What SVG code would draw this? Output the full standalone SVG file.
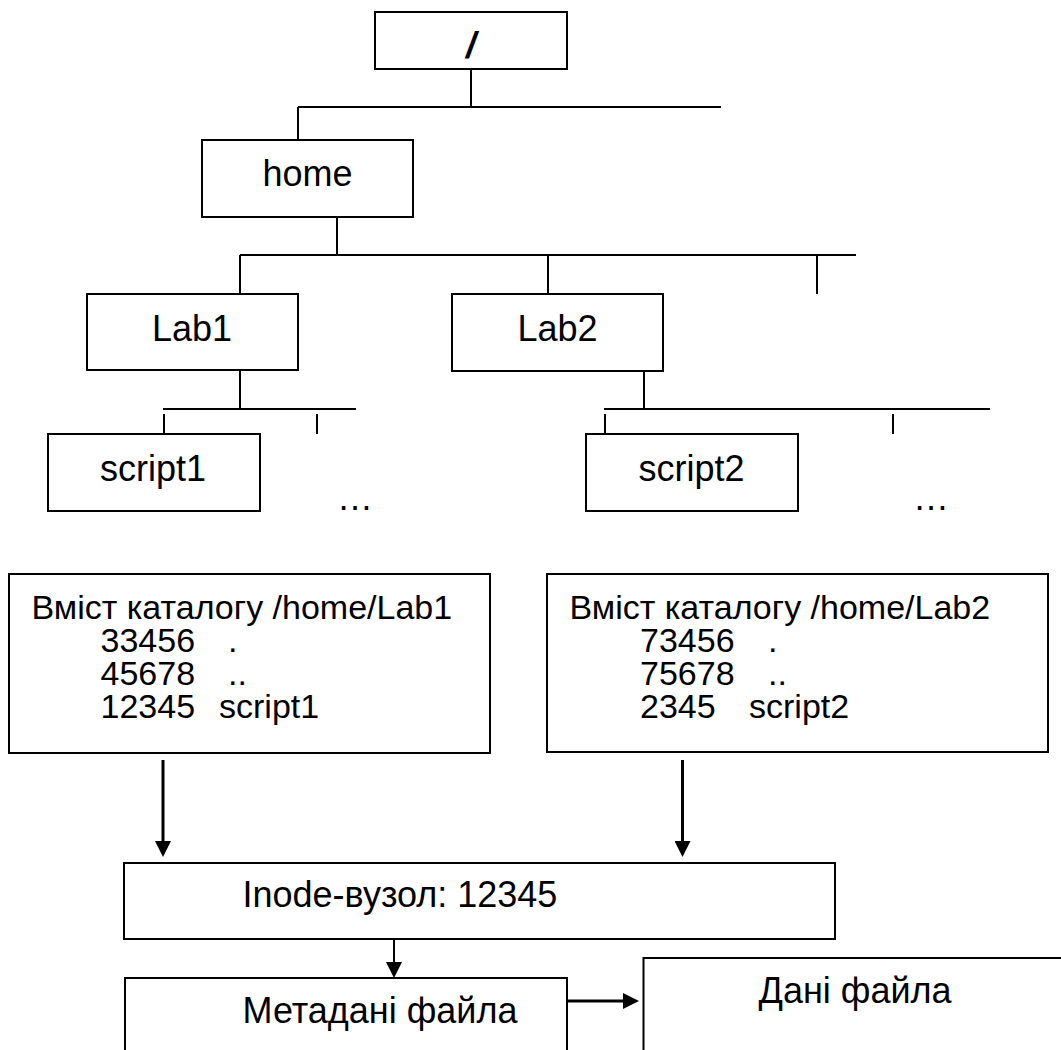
<svg xmlns="http://www.w3.org/2000/svg" width="1061" height="1050" viewBox="0 0 1061 1050">
<style>
.box{fill:#fff;stroke:#000;stroke-width:2}
.ln{stroke:#000;stroke-width:2;fill:none}
.thick{stroke:#000;stroke-width:3;fill:none}
.t{font-family:"Liberation Sans",Arial,sans-serif;font-size:36px;fill:#000}
.c{text-anchor:middle}
.d{font-family:"Liberation Sans",Arial,sans-serif;font-size:34px;fill:#000}
</style>
<defs>
<marker id="ah" markerUnits="userSpaceOnUse" markerWidth="16" markerHeight="16" viewBox="0 0 16 16" refX="0" refY="8" orient="auto">
<path d="M0,0 L16,8 L0,16 z" fill="#000"/>
</marker>
</defs>
<rect width="1061" height="1050" fill="#fff"/>
<g id="connectors">
<path class="ln" d="M471,69 V107 M298,107 H721 M298,107 V140"/>
<path class="ln" d="M337,217 V255 M240,255 H856 M240,255 V294 M548,255 V294 M817,255 V294"/>
<path class="ln" d="M240,370 V409 M163,409 H356 M164,414 V434 M317,414 V434"/>
<path class="ln" d="M644,371 V409 M604,409 H990 M605,414 V434 M893,414 V434"/>
<line class="thick" x1="163" y1="760" x2="163" y2="841" marker-end="url(#ah)"/>
<line class="thick" x1="682.5" y1="760" x2="682.5" y2="841" marker-end="url(#ah)"/>
<line class="ln" x1="394" y1="939" x2="394" y2="962" marker-end="url(#ah)"/>
<line class="thick" x1="561" y1="1001" x2="623" y2="1001" marker-end="url(#ah)"/>
</g>
<g id="root">
<rect class="box" x="375" y="12" width="192" height="57"/>
<text class="t c" x="471" y="58" font-weight="bold" font-style="italic">/</text>
</g>
<g id="home">
<rect class="box" x="202" y="140" width="211" height="77"/>
<text class="t c" x="307.5" y="186">home</text>
</g>
<g id="lab1">
<rect class="box" x="87" y="294" width="211" height="76"/>
<text class="t c" x="192" y="341">Lab1</text>
</g>
<g id="lab2">
<rect class="box" x="452" y="294" width="211" height="77"/>
<text class="t c" x="557.5" y="341">Lab2</text>
</g>
<g id="script1">
<rect class="box" x="48" y="434" width="212" height="77"/>
<text class="t c" x="153" y="481">script1</text>
</g>
<g id="more1">
<text class="t c" x="355" y="510">…</text>
</g>
<g id="script2">
<rect class="box" x="586" y="434" width="212" height="77"/>
<text class="t c" x="691.5" y="481">script2</text>
</g>
<g id="more2">
<text class="t c" x="931" y="510">…</text>
</g>
<g id="dir1">
<rect class="box" x="9" y="574" width="481" height="179"/>
<text class="d" x="31.5" y="619">Вміст каталогу /home/Lab1</text>
<text class="d" x="100.5" y="652">33456</text>
<text class="d" x="228" y="652">.</text>
<text class="d" x="100.5" y="685">45678</text>
<text class="d" x="228" y="685">..</text>
<text class="d" x="100.5" y="718">12345</text>
<text class="d" x="219" y="718">script1</text>
</g>
<g id="dir2">
<rect class="box" x="547" y="574" width="501" height="178"/>
<text class="d" x="569.5" y="619">Вміст каталогу /home/Lab2</text>
<text class="d" x="640" y="652">73456</text>
<text class="d" x="768" y="652">.</text>
<text class="d" x="640" y="685">75678</text>
<text class="d" x="768" y="685">..</text>
<text class="d" x="640" y="718">2345</text>
<text class="d" x="749" y="718">script2</text>
</g>
<g id="inode">
<rect class="box" x="124" y="863" width="711" height="76"/>
<text class="t" x="242.5" y="907">Inode-вузол: 12345</text>
</g>
<g id="meta">
<rect class="box" x="125" y="978" width="442" height="100"/>
<text class="t" x="242.5" y="1023">Метадані файла</text>
</g>
<g id="data">
<rect class="box" x="643.5" y="958" width="440" height="120"/>
<text class="t" x="758.5" y="1003">Дані файла</text>
</g>
</svg>
